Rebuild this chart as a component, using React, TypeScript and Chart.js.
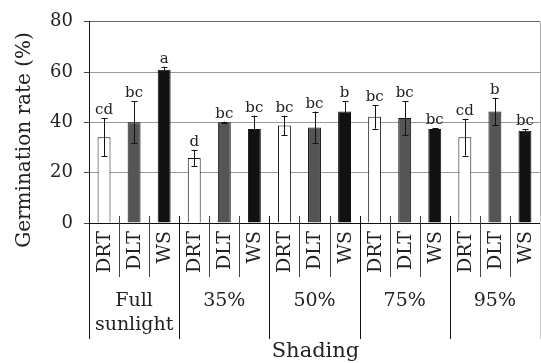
import React, { useEffect, useRef } from "react";
import { Chart, registerables } from "chart.js";

Chart.register(...registerables);

const groupLabels = [["Full", "sunlight"], ["35%"], ["50%"], ["75%"], ["95%"]];
const treatments = ["DRT", "DLT", "WS"];
const drtMeans = [34.1, 25.8, 38.8, 42.2, 34.1];
const dltMeans = [40.1, 40.1, 38.0, 41.7, 44.3];
const wsMeans = [60.9, 37.4, 44.3, 37.4, 36.7];
const drtErr = [7.5, 3.2, 3.9, 4.7, 7.3];
const dltErr = [8.4, 0.2, 6.3, 6.8, 5.5];
const wsErr = [1.3, 5.3, 4.2, 0.3, 0.5];
const drtLetters = ["cd", "d", "bc", "bc", "cd"];
const dltLetters = ["bc", "bc", "bc", "bc", "b"];
const wsLetters = ["a", "bc", "b", "bc", "bc"];
const yTicks = [0, 20, 40, 60, 80];
const yTitle = "Germination rate (%)";
const xTitle = "Shading";

const FONT = "'DejaVu Serif', 'Liberation Serif', serif";
const treatColors = ["#ffffff", "#555555", "#111111"];

export default function App() {
  const ref = useRef<HTMLCanvasElement | null>(null);

  useEffect(() => {
    const canvas = ref.current;
    if (!canvas) return;
    const labels: string[] = [];
    const values: number[] = [];
    const errs: number[] = [];
    const letters: string[] = [];
    const colors: string[] = [];
    for (let g = 0; g < groupLabels.length; g++) {
      const m = [drtMeans[g], dltMeans[g], wsMeans[g]];
      const e = [drtErr[g], dltErr[g], wsErr[g]];
      const l = [drtLetters[g], dltLetters[g], wsLetters[g]];
      for (let t = 0; t < treatments.length; t++) {
        labels.push(treatments[t]);
        values.push(m[t]);
        errs.push(e[t]);
        letters.push(l[t]);
        colors.push(treatColors[t]);
      }
    }

    const overlay = {
      id: "overlay",
      afterDraw(chart: any) {
        const ctx = chart.ctx as CanvasRenderingContext2D;
        const x = chart.scales.x;
        const y = chart.scales.y;
        const area = chart.chartArea;
        const n = labels.length;
        const slot = (x.getPixelForValue(1) - x.getPixelForValue(0));
        const half = slot / 2;
        ctx.save();
        // right border
        ctx.strokeStyle = "#aaaaaa";
        ctx.lineWidth = 1;
        ctx.beginPath();
        ctx.moveTo(Math.round(area.right) + 0.5, area.top);
        ctx.lineTo(Math.round(area.right) + 0.5, area.bottom);
        ctx.stroke();

        // error bars
        ctx.strokeStyle = "#111";
        ctx.lineWidth = 1;
        for (let i = 0; i < n; i++) {
          const cx = Math.round(x.getPixelForValue(i)) + 0.5;
          const top = y.getPixelForValue(values[i] + errs[i]);
          const bot = y.getPixelForValue(values[i] - errs[i]);
          ctx.beginPath();
          ctx.moveTo(cx, top);
          ctx.lineTo(cx, bot);
          ctx.moveTo(cx - 3, Math.round(top) + 0.5);
          ctx.lineTo(cx + 3, Math.round(top) + 0.5);
          ctx.moveTo(cx - 3, Math.round(bot) + 0.5);
          ctx.lineTo(cx + 3, Math.round(bot) + 0.5);
          ctx.stroke();
        }

        // letters
        ctx.fillStyle = "#222";
        ctx.font = `15px ${FONT}`;
        ctx.textAlign = "center";
        ctx.textBaseline = "alphabetic";
        for (let i = 0; i < n; i++) {
          const cx = x.getPixelForValue(i);
          const top = y.getPixelForValue(values[i] + errs[i]);
          ctx.fillText(letters[i], cx, top - 4);
        }

        // separators
        const yb = area.bottom;
        for (let b = 0; b <= n; b++) {
          const bx =
            b < n ? Math.round(x.getPixelForValue(b) - half) + 0.5 : Math.round(area.right) + 0.5;
          const isGroup = b % 3 === 0;
          ctx.strokeStyle = b === n ? "#cccccc" : isGroup ? "#111" : "#444";
          ctx.beginPath();
          ctx.moveTo(bx, b === 0 ? yb : yb - 7);
          ctx.lineTo(bx, isGroup ? yb + 116 : yb + 54);
          ctx.stroke();
        }

        // rotated treatment labels
        ctx.fillStyle = "#222";
        ctx.font = `19px ${FONT}`;
        for (let i = 0; i < n; i++) {
          const cx = x.getPixelForValue(i);
          ctx.save();
          ctx.translate(cx + 1, yb + 8);
          ctx.rotate(-Math.PI / 2);
          ctx.textAlign = "right";
          ctx.textBaseline = "middle";
          ctx.fillText(labels[i], 0, 0);
          ctx.restore();
        }

        // group labels
        ctx.font = `19px ${FONT}`;
        ctx.textAlign = "center";
        ctx.textBaseline = "alphabetic";
        for (let g = 0; g < groupLabels.length; g++) {
          const gx = x.getPixelForValue(g * 3 + 1);
          groupLabels[g].forEach((line, k) => {
            ctx.fillText(line, gx, yb + 83 + k * 24);
          });
        }

        // x title
        ctx.font = `21px ${FONT}`;
        ctx.textAlign = "center";
        ctx.fillText(xTitle, x.getPixelForValue(7) + 1, yb + 134);

        // y title
        ctx.save();
        ctx.font = `20px ${FONT}`;
        ctx.translate(25, 140);
        ctx.rotate(-Math.PI / 2);
        ctx.textAlign = "center";
        ctx.textBaseline = "middle";
        ctx.fillText(yTitle, 0, 0);
        ctx.restore();

        ctx.restore();
      },
    };

    const chart = new Chart(canvas, {
      type: "bar",
      data: {
        labels,
        datasets: [
          {
            data: values,
            backgroundColor: colors,
            borderColor: "#111",
            borderWidth: 1,
            borderSkipped: "bottom",
            barPercentage: 0.43,
            categoryPercentage: 1,
          },
        ],
      },
      options: {
        animation: false,
        responsive: false,
        devicePixelRatio: 1,
        layout: { padding: { top: 19, right: 1, left: 0, bottom: 0 } },
        plugins: { legend: { display: false }, tooltip: { enabled: false } },
        scales: {
          x: {
            type: "category",
            offset: true,
            grid: { display: false },
            border: { display: true, color: "#111", width: 1 },
            ticks: { display: false },
            afterFit: (s: any) => {
              s.height = 140;
            },
          },
          y: {
            min: 0,
            max: 80,
            afterBuildTicks: (s: any) => {
              s.ticks = yTicks.map((v) => ({ value: v }));
            },
            grid: {
              color: (c: any) => (c.tick && c.tick.value === 80 ? "#666" : "#9a9a9a"),
              tickColor: "#444",
              tickLength: 5,
              drawTicks: true,
            },
            border: { display: true, color: "#111", width: 1 },
            ticks: {
              color: "#222",
              padding: 11,
              font: { family: FONT, size: 18 },
            },
            afterFit: (s: any) => {
              s.width = 89;
            },
          },
        },
      },
      plugins: [overlay],
    } as any);
    return () => chart.destroy();
  }, []);

  return (
    <div style={{ position: "fixed", left: 0, top: 0, width: 541, height: 363, background: "#fff" }}>
      <canvas ref={ref} width={541} height={363} style={{ width: 541, height: 363, display: "block" }} />
    </div>
  );
}
